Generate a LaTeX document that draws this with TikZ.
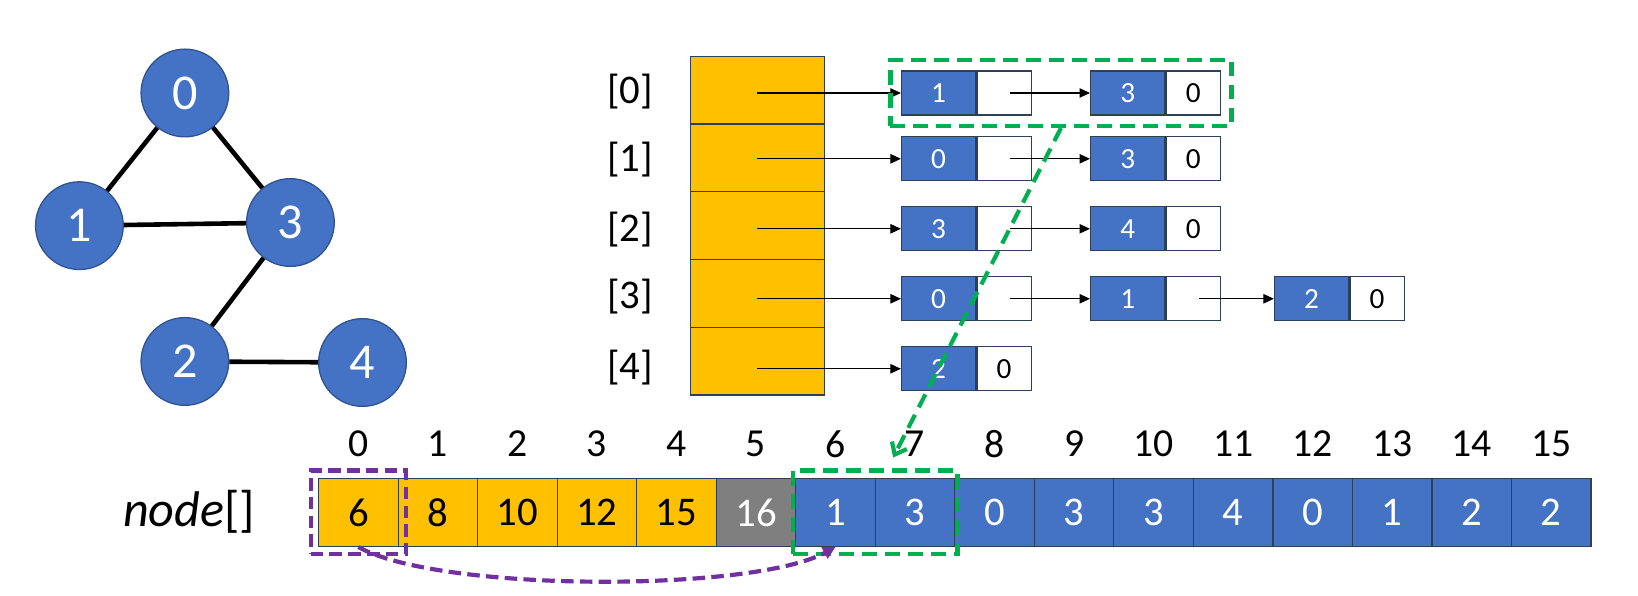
\documentclass[tikz,border=0pt]{standalone}
\usepackage{fontspec}
\setmainfont{Carlito}
\usetikzlibrary{arrows.meta,fit}
\definecolor{cblue}{HTML}{4472C4}
\definecolor{cborder}{HTML}{2F528F}
\definecolor{cyel}{HTML}{FFC000}
\definecolor{cgray}{HTML}{7F7F7F}
\definecolor{cgreen}{HTML}{00B050}
\definecolor{cpurple}{HTML}{7030A0}
\definecolor{cedge}{HTML}{2E3F5A}
\tikzset{
  vtx/.style={circle, fill=cblue, draw=cborder, line width=0.6pt, minimum size=42pt, inner sep=0pt, text=white, font=\fontsize{24}{24}\selectfont},
  gedge/.style={line width=2.2pt, black},
  idx/.style={font=\fontsize{19}{19}\selectfont},
  rowlbl/.style={font=\fontsize{19.5}{19.5}\selectfont},
  ycol/.style={rectangle, fill=cyel, draw=cedge, line width=0.6pt, minimum width=64pt, minimum height=32.4pt, inner sep=0pt},
  lblue/.style={rectangle, fill=cblue, draw=cedge, line width=0.6pt, minimum width=35.5pt, minimum height=21pt, inner sep=0pt, text=white, font=\fontsize{14}{14}\selectfont},
  lwhite/.style={rectangle, fill=white, draw=cedge, line width=0.6pt, minimum width=26pt, minimum height=21pt, inner sep=0pt, text=black, font=\fontsize{14}{14}\selectfont},
  ptr/.style={-{Triangle[length=5pt,width=4.5pt]}, line width=0.5pt, black},
  arrcell/.style={rectangle, draw=cedge, line width=0.6pt, minimum width=38.06pt, minimum height=32.5pt, inner sep=0pt, font=\fontsize{19.5}{19.5}\selectfont},
  gdash/.style={draw=cgreen, line width=2pt, dash pattern=on 7pt off 4pt},
  pdash/.style={draw=cpurple, line width=2pt, dash pattern=on 6pt off 3pt}
}
\begin{document}
\begin{tikzpicture}[x=0.5pt,y=-0.5pt]
\useasboundingbox (0,0) rectangle (1568,570);
% graph
\node[vtx] (g0) at (177,89) {0};
\node[vtx] (g1) at (76,216) {1};
\node[vtx] (g3) at (278,213) {3};
\node[vtx] (g2) at (177,346) {2};
\node[vtx] (g4) at (347,347) {4};
\draw[gedge] (g0) -- (g1);
\draw[gedge] (g0) -- (g3);
\draw[gedge] (g1) -- (g3);
\draw[gedge] (g3) -- (g2);
\draw[gedge] (g2) -- (g4);
% adjacency labels
\node[rowlbl] (l0) at (603,88) {[0]};
\node[rowlbl] (l1) at (603,153) {[1]};
\node[rowlbl] (l2) at (603,220) {[2]};
\node[rowlbl] (l3) at (603,284) {[3]};
\node[rowlbl] (l4) at (603,352) {[4]};
% yellow column
\node[ycol] (c0) at (725,86.4) {};
\node[ycol] (c1) at (725,151.2) {};
\node[ycol] (c2) at (725,216) {};
\node[ycol] (c3) at (725,280.8) {};
\node[ycol] (c4) at (725,345.6) {};
% list nodes
\node[lblue] (n00) at (898.5,89) {1};
\node[lwhite, anchor=west] (w00) at (n00.east) {};
\node[lblue] (n01) at (1079.5,89) {3};
\node[lwhite, anchor=west] (w01) at (n01.east) {0};
\node[lblue] (n10) at (898.5,152) {0};
\node[lwhite, anchor=west] (w10) at (n10.east) {};
\node[lblue] (n11) at (1079.5,152) {3};
\node[lwhite, anchor=west] (w11) at (n11.east) {0};
\node[lblue] (n20) at (898.5,219) {3};
\node[lwhite, anchor=west] (w20) at (n20.east) {};
\node[lblue] (n21) at (1079.5,219) {4};
\node[lwhite, anchor=west] (w21) at (n21.east) {0};
\node[lblue] (n30) at (898.5,286) {0};
\node[lwhite, anchor=west] (w30) at (n30.east) {};
\node[lblue] (n31) at (1079.5,286) {1};
\node[lwhite, anchor=west] (w31) at (n31.east) {};
\node[lblue] (n32) at (1255.5,286) {2};
\node[lwhite, anchor=west] (w32) at (n32.east) {0};
\node[lblue] (n40) at (898.5,353) {2};
\node[lwhite, anchor=west] (w40) at (n40.east) {0};
% pointers
\draw[ptr] (c0.center |- n00.west) -- (n00.west);
\draw[ptr] (c1.center |- n10.west) -- (n10.west);
\draw[ptr] (c2.center |- n20.west) -- (n20.west);
\draw[ptr] (c3.center |- n30.west) -- (n30.west);
\draw[ptr] (c4.center |- n40.west) -- (n40.west);
\draw[ptr] ([xshift=3pt]w00.center) -- (n01.west);
\draw[ptr] ([xshift=3pt]w10.center) -- (n11.west);
\draw[ptr] ([xshift=3pt]w20.center) -- (n21.west);
\draw[ptr] ([xshift=3pt]w30.center) -- (n31.west);
\draw[ptr] ([xshift=3pt]w31.center) -- (n32.west);
% array
\node[font=\fontsize{24}{24}\selectfont] (lab) at (181,490) {\textit{node}[]};
\foreach \i/\v/\c/\t in {0/6/cyel/black,1/8/cyel/black,2/10/cyel/black,3/12/cyel/black,4/15/cyel/black,5/16/cgray/white,6/1/cblue/white,7/3/cblue/white,8/0/cblue/white,9/3/cblue/white,10/3/cblue/white,11/4/cblue/white,12/0/cblue/white,13/1/cblue/white,14/2/cblue/white,15/2/cblue/white}{
  \node[arrcell, fill=\c, text=\t] (a\i) at ({305+76.125*(\i+0.5)},490.5) {\v};
  \node[idx] (i\i) at ({305+76.125*(\i+0.5)},425) {\i};
}
% green boxes and arrow
\node[gdash, fit=(n00)(w01), inner sep=5pt] (gb1) {};
\node[gdash, fit=(a6)(a7), inner xsep=1pt, inner ysep=3.5pt] (gb2) {};
\coordinate (gend) at (855,438);
\draw[gdash, -{Straight Barb[length=5pt,width=8pt]}] (gb1.south) -- (gend);
% purple box and arrow
\node[pdash, fit=(a0), inner sep=3.5pt] (pb) {};
\draw[pdash, -{Triangle[length=6pt,width=6pt]}] (a0.south) .. controls (420,567) and (720,567) .. (a6.south);
\end{tikzpicture}
\end{document}
